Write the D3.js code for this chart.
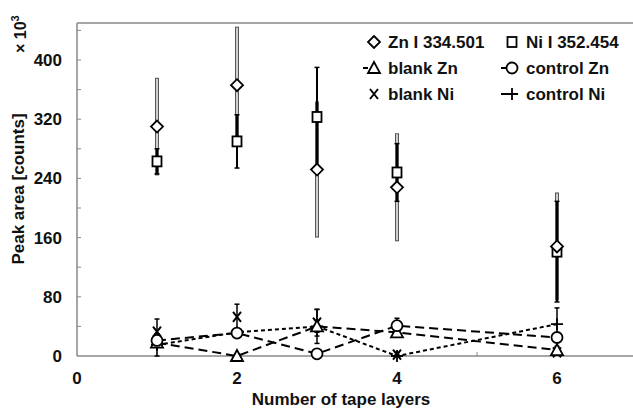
<!DOCTYPE html>
<html>
<head>
<meta charset="UTF-8" />
<title>Peak area vs tape layers</title>
<script src="https://d3js.org/d3.v7.min.js"></script>
<style>
  body { margin: 0; background: #fff; }
  text { font-family: "Liberation Sans", Arial, sans-serif; font-weight: bold; fill: #111; }
</style>
</head>
<body>
<div id="main"></div>
<script type="text/javascript">
  var layers = [1, 2, 3, 4, 6];
  var znPeak = [310, 366, 252, 228, 148];
  var znErr = [66, 79, 92, 73, 73];
  var niPeak = [263, 290, 323, 248, 141];
  var niErr = [17, 36, 67, 39, 68];
  var blankZn = [18, 0, 40, 32, 8];
  var blankZnErr = [4, 3, 23, 6, 5];
  var controlZn = [21, 31, 3, 41, 25];
  var controlZnErr = [5, 6, 3, 10, 6];
  var blankNi = [33, 53, 45, 2, 5];
  var blankNiErr = [17, 17, 18, 3, 4];
  var controlNi = [15, 32, 40, 0, 43];
  var controlNiErr = [15, 5, 8, 2, 22];
  var xTicks = [0, 2, 4, 6];
  var yTicks = [0, 80, 160, 240, 320, 400];

  var width = 633, height = 409;
  var svg = d3.select('#main').append('svg')
    .attr('width', width).attr('height', height);

  var x = d3.scaleLinear().domain([0, 7]).range([77, 637]);
  var y = d3.scaleLinear().domain([0, 450]).range([356, 23]);

  // frame
  svg.append('line').attr('x1', x(0)).attr('x2', x(7)).attr('y1', y(450)).attr('y2', y(450))
    .attr('stroke', '#888').attr('stroke-width', 1.5);
  svg.append('line').attr('x1', x(0)).attr('x2', x(0)).attr('y1', y(0)).attr('y2', y(450))
    .attr('stroke', '#888').attr('stroke-width', 1.5);
  svg.append('line').attr('x1', x(0)).attr('x2', x(7)).attr('y1', y(0)).attr('y2', y(0))
    .attr('stroke', '#888').attr('stroke-width', 1.5);

  // minor ticks inside
  svg.append('g').selectAll('line').data(d3.range(40, 450, 40)).enter().append('line')
    .attr('x1', x(0)).attr('x2', x(0) + 4).attr('y1', function(d){ return y(d); }).attr('y2', function(d){ return y(d); })
    .attr('stroke', '#888');
  svg.append('g').selectAll('line').data(d3.range(1, 7)).enter().append('line')
    .attr('x1', function(d){ return x(d); }).attr('x2', function(d){ return x(d); })
    .attr('y1', y(0)).attr('y2', y(0) - 4).attr('stroke', '#888');

  // tick labels
  svg.append('g').selectAll('text').data(yTicks).enter().append('text')
    .attr('x', 62).attr('y', function(d){ return y(d) + 6; })
    .attr('text-anchor', 'end').style('font-size', '17px').text(function(d){ return d; });
  svg.append('g').selectAll('text').data(xTicks).enter().append('text')
    .attr('x', function(d){ return x(d); }).attr('y', 384)
    .attr('text-anchor', 'middle').style('font-size', '17px').text(function(d){ return d; });

  svg.append('text').attr('x', 341).attr('y', 405).attr('text-anchor', 'middle')
    .style('font-size', '17px').text('Number of tape layers');
  svg.append('text').attr('transform', 'translate(24,189) rotate(-90)').attr('text-anchor', 'middle')
    .style('font-size', '17px').text('Peak area [counts]');
  var mult = svg.append('text').attr('transform', 'translate(26,53) rotate(-90)')
    .attr('text-anchor', 'start').style('font-size', '16px');
  mult.append('tspan').text('\u00d7 10');
  mult.append('tspan').attr('dy', -7).style('font-size', '11px').text('3');

  function idx() { return d3.range(layers.length); }

  // Zn error bars: hollow grey bars
  function hollowBars(vals, errs) {
    var g = svg.append('g');
    idx().forEach(function(i) {
      var cx = x(layers[i]), t = y(vals[i] + errs[i]), b = y(vals[i] - errs[i]);
      g.append('line').attr('x1', cx).attr('x2', cx).attr('y1', t).attr('y2', b)
        .attr('stroke', '#555').attr('stroke-width', 4);
      g.append('line').attr('x1', cx).attr('x2', cx).attr('y1', t + 1).attr('y2', b - 1)
        .attr('stroke', '#cfcfcf').attr('stroke-width', 2);
    });
  }
  function blackBars(vals, errs, w) {
    var g = svg.append('g');
    idx().forEach(function(i) {
      var cx = x(layers[i]), t = y(vals[i] + errs[i]), b = y(Math.max(0, vals[i] - errs[i]));
      g.append('line').attr('x1', cx).attr('x2', cx).attr('y1', t).attr('y2', b)
        .attr('stroke', '#000').attr('stroke-width', w);
      [t, b].forEach(function(yy) {
        g.append('line').attr('x1', cx - 2.5).attr('x2', cx + 2.5).attr('y1', yy).attr('y2', yy)
          .attr('stroke', '#000').attr('stroke-width', 1.5);
      });
    });
  }
  function dashedLine(vals, dash) {
    svg.append('path').datum(idx())
      .attr('d', d3.line().x(function(i){ return x(layers[i]); }).y(function(i){ return y(vals[i]); }))
      .attr('fill', 'none').attr('stroke', '#000').attr('stroke-width', 2)
      .attr('stroke-dasharray', dash);
  }

  hollowBars(znPeak, znErr);
  blackBars(niPeak, niErr, 2);

  blackBars(blankZn, blankZnErr, 1.5);
  blackBars(controlZn, controlZnErr, 1.5);
  blackBars(blankNi, blankNiErr, 1.5);
  blackBars(controlNi, controlNiErr, 1.5);

  dashedLine(blankZn, '9,5');
  dashedLine(controlZn, '9,5');
  dashedLine(controlNi, '4,3');

  // marker shapes
  function marker(g, type, cx, cy) {
    var s = g.append('g').attr('transform', 'translate(' + cx + ',' + cy + ')');
    var st = { fill: 'white', stroke: '#000', 'stroke-width': 1.8 };
    var el;
    if (type === 'diamond') el = s.append('path').attr('d', 'M0,-6L6,0L0,6L-6,0Z');
    else if (type === 'square') el = s.append('rect').attr('x', -4.5).attr('y', -5).attr('width', 9).attr('height', 10);
    else if (type === 'triangle') el = s.append('path').attr('d', 'M0,-6L6,5L-6,5Z');
    else if (type === 'circle') el = s.append('circle').attr('r', 5.5);
    else if (type === 'cross') { s.append('path').attr('d', 'M-4,-5L4,5M-4,5L4,-5').attr('stroke', '#000').attr('stroke-width', 2); return; }
    else if (type === 'plus') { s.append('path').attr('d', 'M-6,0L6,0M0,-6L0,6').attr('stroke', '#000').attr('stroke-width', 1.8); return; }
    for (var k in st) el.attr(k, st[k]);
  }
  function markers(vals, type) {
    var g = svg.append('g');
    idx().forEach(function(i){ marker(g, type, x(layers[i]), y(vals[i])); });
  }
  markers(blankNi, 'cross');
  markers(controlNi, 'plus');
  markers(blankZn, 'triangle');
  markers(controlZn, 'circle');
  markers(niPeak, 'square');
  markers(znPeak, 'diamond');

  // legend
  var leg = svg.append('g');
  var legItems = [
    { label: 'Zn I 334.501', type: 'diamond', line: false, x: 374, y: 42 },
    { label: 'Ni I 352.454', type: 'square', line: false, x: 512, y: 42 },
    { label: 'blank Zn', type: 'triangle', line: true, x: 374, y: 68 },
    { label: 'control Zn', type: 'circle', line: true, x: 512, y: 68 },
    { label: 'blank Ni', type: 'cross', line: false, x: 374, y: 94 },
    { label: 'control Ni', type: 'plus', line: true, x: 512, y: 94 }
  ];
  legItems.forEach(function(d) {
    if (d.line) leg.append('line').attr('x1', d.x - 11).attr('x2', d.x - 6).attr('y1', d.y).attr('y2', d.y)
      .attr('stroke', '#000').attr('stroke-width', 2);
    marker(leg, d.type, d.x, d.y);
    leg.append('text').attr('x', d.x + 14).attr('y', d.y + 6).style('font-size', '17px').text(d.label);
  });
</script>
</body>
</html>
